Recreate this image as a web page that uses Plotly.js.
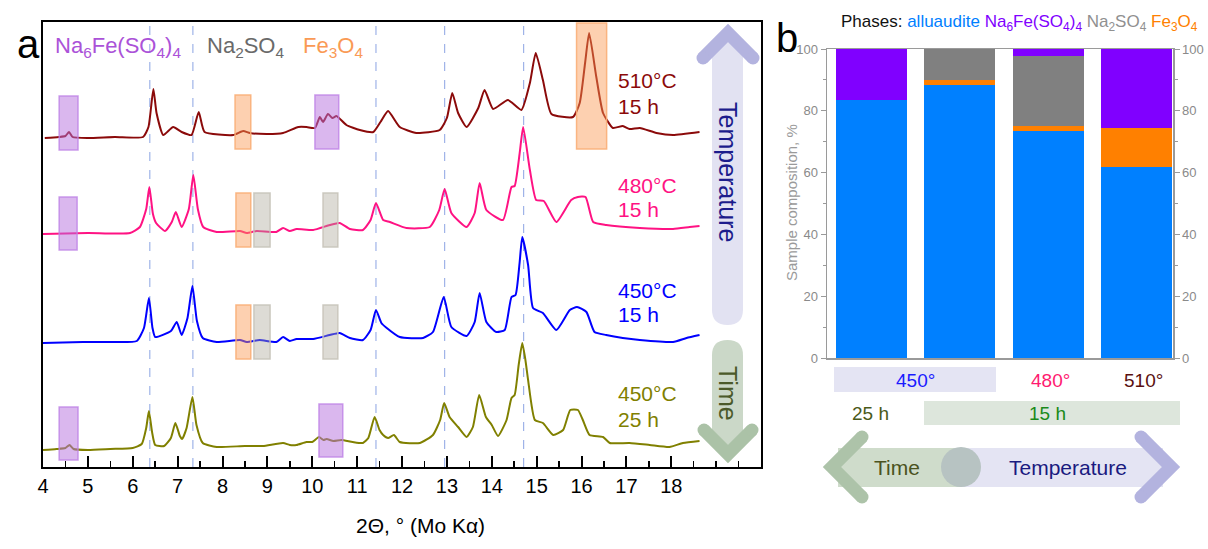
<!DOCTYPE html>
<html>
<head>
<meta charset="utf-8">
<script src="https://cdn.plot.ly/plotly-3.0.1.min.js"></script>
<style>html,body{margin:0;padding:0;background:#fff}#chart{width:1208px;height:549px}</style>
</head>
<body>
<div id="chart"></div>
<script>
// ---------------- Panel a: XRD patterns (2Θ in degrees, intensity in arbitrary units) ----------------
const x510 = [4.04,4.35,4.50,4.58,4.66,5.0,5.6,6.23,6.35,6.46,6.53,6.68,6.9,7.09,7.31,7.47,7.6,8.24,8.46,8.61,9.0,9.35,9.69,9.87,10.06,10.17,10.24,10.35,10.45,10.54,10.76,11.06,11.36,11.52,11.69,11.95,12.32,12.84,13.0,13.12,13.25,13.44,13.7,13.84,14.03,14.36,14.66,14.85,14.98,15.14,15.33,15.81,15.96,16.08,16.17,16.33,16.48,16.7,16.92,17.07,17.3,17.67,18.04,18.63];
const y510 = [0,1,2,6,1,0,1,1,11,49,25,3,11,6,3,26,6,3,7,5,4,5,11,11,10,21,16,24,20,22,13,8,6,16,27,11,5,8,20,45,25,11,30,48,29,38,28,55,85,58,24,21,35,75,105,61,25,10,12,9,10,5,3,6];

const x480 = [4.0,5.0,5.94,6.16,6.3,6.37,6.45,6.52,6.72,6.87,6.96,7.09,7.25,7.35,7.45,7.57,7.87,8.39,8.54,8.76,9.2,9.35,9.5,9.65,10.02,10.39,10.61,10.84,11.13,11.3,11.42,11.58,11.73,12.1,12.62,12.83,12.95,13.1,13.44,13.62,13.73,13.88,14.25,14.44,14.51,14.62,14.7,14.85,14.99,15.16,15.44,15.77,15.92,16.09,16.26,16.55,17.3,18.04,18.41,18.63];
const y480 = [0,1,1,7,25,47,20,11,3,12,22,7,25,59,25,7,2,3,1,3,2,6,3,5,4,9,11,5,4,14,31,14,12,6,7,24,45,21,7,21,51,24,14,47,48,80,107,64,34,33,12,34,37,37,12,9,6,5,7,8];

const x450a = [4.0,4.89,5.5,6.09,6.25,6.36,6.44,6.5,6.85,6.98,7.09,7.22,7.33,7.43,7.56,7.87,8.39,8.54,8.83,9.2,9.35,9.5,9.65,10.02,10.39,10.61,10.84,11.13,11.3,11.42,11.54,11.66,11.95,12.47,12.69,12.93,13.1,13.44,13.62,13.73,13.88,14.1,14.29,14.44,14.53,14.62,14.68,14.81,14.92,15.14,15.44,15.74,15.9,16.11,16.29,16.55,16.92,17.3,18.04,18.34,18.63];
const y450a = [0,1,1,2,15,45,15,6,12,21,8,25,57,22,5,1,3,1,3,1,6,2,4,4,8,10,5,3,13,33,20,15,6,5,11,46,16,7,21,50,21,11,13,46,48,80,106,78,35,30,13,33,36,31,11,8,5,3,1,5,8];

const x450b = [4.0,4.3,4.5,4.59,4.68,5.0,5.5,6.0,6.2,6.3,6.36,6.43,6.5,6.7,6.85,6.95,7.05,7.1,7.2,7.33,7.42,7.56,7.87,8.5,8.9,9.35,9.5,9.65,9.87,10.0,10.15,10.25,10.32,10.47,10.65,10.9,11.13,11.25,11.39,11.5,11.58,11.69,11.82,11.95,12.4,12.69,12.85,12.94,13.06,13.25,13.44,13.58,13.72,13.87,14.0,14.14,14.33,14.44,14.51,14.6,14.68,14.75,14.81,14.96,15.14,15.37,15.59,15.75,15.92,16.03,16.18,16.48,16.63,17.07,17.52,17.96,18.26,18.63];
const y450b = [0,1,2,5,1,0,1,2,6,22,39,18,5,4,12,27,14,11,22,53,25,7,3,4,4,7,5,5,8,8,13,10,11,9,10,8,7,12,33,20,15,12,15,8,7,15,30,47,33,23,13,23,55,33,25,14,30,52,55,85,107,90,70,30,27,15,20,40,40,30,15,13,7,7,5,3,7,9];

const xrdNames  = ['510°C 15 h', '480°C 15 h', '450°C 15 h', '450°C 25 h'];
const xrdColors = ['#8b0a0a', '#ff1283', '#0000ff', '#808000'];
const xrdOffsets = [329, 233, 124, 17];
const xTickVals = [4,5,6,7,8,9,10,11,12,13,14,15,16,17,18];
const refPeaks  = [6.38, 7.34, 11.42, 12.95, 14.71];   // alluaudite reference reflections (dashed lines)

// impurity markers: phase, 2Θ from, 2Θ to, y from, y to (plot units)
const markPhase = ['na6','fe3o4','na6','fe3o4', 'na6','fe3o4','na2','na2', 'fe3o4','na2','na2', 'na6','na6'];
const markX0    = [4.36, 8.28, 10.06, 15.89, 4.36, 8.30, 8.70, 10.24, 8.30, 8.70, 10.24, 4.36, 10.15];
const markX1    = [4.78, 8.63, 10.59, 16.56, 4.76, 8.63, 9.06, 10.57, 8.63, 9.06, 10.57, 4.78, 10.68];
const markY0    = [317, 318, 318, 318, 217, 220, 220, 220, 108, 108, 108, 7, 10];
const markY1    = [371, 372, 372, 444, 270, 274, 274, 274, 162, 162, 162, 60, 63];

// ---------------- Panel b: phase composition, % ----------------
const samples     = ['450°C 25 h', '450°C 15 h', '480°C 15 h', '510°C 15 h'];
const alluaudite  = [83.5, 88.3, 73.5, 61.7];
const fe3o4       = [0, 1.7, 1.7, 12.6];
const na2so4      = [0, 10.0, 22.5, 0];
const na6fe       = [16.5, 0, 2.3, 25.7];
const phaseNames  = ['alluaudite', 'Fe<sub>3</sub>O<sub>4</sub>', 'Na<sub>2</sub>SO<sub>4</sub>', 'Na<sub>6</sub>Fe(SO<sub>4</sub>)<sub>4</sub>'];
const phaseColors = ['#0080ff', '#ff8000', '#808080', '#8000ff'];
const compTicks   = [0, 20, 40, 60, 80, 100];

// ---------------- helpers ----------------
const W = 1208, H = 549;
const PX = v => v / W, PY = v => 1 - v / H;
const FONT = 'Liberation Sans, Arial, sans-serif';

function roundedVBar(x0, x1, y0, y1) {
  const r = (x1 - x0) / 2;
  const P = (x, y) => PX(x).toFixed(5) + ',' + PY(y).toFixed(5);
  return 'M' + P(x0, y0 + r) + ' Q' + P(x0, y0) + ' ' + P(x0 + r, y0) + ' Q' + P(x1, y0) + ' ' + P(x1, y0 + r) +
         ' L' + P(x1, y1 - r) + ' Q' + P(x1, y1) + ' ' + P(x0 + r, y1) + ' Q' + P(x0, y1) + ' ' + P(x0, y1 - r) + ' Z';
}
function polyline(pts) {
  return pts.map((p, i) => (i ? 'L' : 'M') + PX(p[0]).toFixed(5) + ',' + PY(p[1]).toFixed(5)).join(' ');
}
const shapes = [];
function chevron(pts, color, w) {
  shapes.push({type: 'path', xref: 'paper', yref: 'paper', path: polyline(pts), line: {color: color, width: w}, layer: 'above'});
  [pts[0], pts[2]].forEach(p => shapes.push({type: 'circle', xref: 'paper', yref: 'paper',
    x0: PX(p[0] - w / 2), x1: PX(p[0] + w / 2), y0: PY(p[1] + w / 2), y1: PY(p[1] - w / 2),
    fillcolor: color, line: {width: 0}, layer: 'above'}));
}
function rectPx(x0, x1, y0, y1, fill, layer) {
  shapes.push({type: 'rect', xref: 'paper', yref: 'paper', x0: PX(x0), x1: PX(x1), y0: PY(y1), y1: PY(y0),
    fillcolor: fill, line: {width: 0}, layer: layer || 'below'});
}

// ---------------- traces ----------------
const xrdX = [x510, x480, x450a, x450b];
const xrdY = [y510, y480, y450a, y450b];
const traces = xrdX.map((xs, i) => ({
  type: 'scatter', mode: 'lines', x: xs, y: xrdY[i].map(v => v + xrdOffsets[i]),
  name: xrdNames[i], line: {color: xrdColors[i], width: 2, shape: 'spline', smoothing: 0.5},
  xaxis: 'x', yaxis: 'y', showlegend: false, hoverinfo: 'x+name'
}));
[alluaudite, fe3o4, na2so4, na6fe].forEach((vals, i) => traces.push({
  type: 'bar', x: samples, y: vals, name: phaseNames[i], width: 0.8,
  marker: {color: phaseColors[i], line: {width: 0}}, xaxis: 'x2', yaxis: 'y2', showlegend: false
}));
traces.push({type: 'scatter', mode: 'markers', x: samples, y: [null, null, null, null], xaxis: 'x2', yaxis: 'y3',
  showlegend: false, hoverinfo: 'skip'});

// dashed reference lines
refPeaks.forEach(p => shapes.push({type: 'line', xref: 'x', yref: 'paper', x0: p, x1: p, y0: 82 / H, y1: 527 / H,
  line: {color: '#9fb3e8', width: 1.2, dash: 'dash'}, layer: 'below'}));

// impurity markers
const markStyle = {
  na6:   {fill: 'rgba(182,112,222,0.5)', line: 'rgba(190,130,230,0.8)'},
  fe3o4: {fill: 'rgba(250,150,80,0.45)', line: 'rgba(250,175,120,0.9)'},
  na2:   {fill: 'rgba(170,165,150,0.4)', line: 'rgba(200,196,186,0.9)'}
};
markPhase.forEach((ph, i) => shapes.push({type: 'rect', xref: 'x', yref: 'y', x0: markX0[i], x1: markX1[i],
  y0: markY0[i], y1: markY1[i], fillcolor: markStyle[ph].fill, line: {color: markStyle[ph].line, width: 1.5}, layer: 'above'}));

// panel a arrows
shapes.push({type: 'path', xref: 'paper', yref: 'paper', path: roundedVBar(712, 743, 40, 325), fillcolor: '#e2e2f2', line: {width: 0}, layer: 'below'});
chevron([[703, 58], [728, 33], [753, 58]], '#b3b3df', 13);
shapes.push({type: 'path', xref: 'paper', yref: 'paper', path: roundedVBar(712, 743, 340, 448), fillcolor: '#cbd8c8', line: {width: 0}, layer: 'below'});
chevron([[704, 430], [728, 454], [752, 430]], '#abc2a7', 13);

// panel b labels background
rectPx(834, 996, 367, 392, '#e4e4f3');
rectPx(924, 1180, 401, 425, '#dde6dc');
// panel b bottom double arrow
rectPx(838, 962, 448, 487, '#cfdccb');
rectPx(962, 1163, 448, 487, '#e4e4f3');
shapes.push({type: 'circle', xref: 'paper', yref: 'paper', x0: PX(941), x1: PX(981), y0: PY(487), y1: PY(447),
  fillcolor: '#b7c3c2', line: {width: 0}, layer: 'below'});
chevron([[862, 437], [832, 467], [862, 497]], '#adc3a9', 13);
chevron([[1141, 437], [1171, 467], [1141, 497]], '#b3b3df', 13);

// ---------------- annotations ----------------
const ann = [];
function txt(text, x, y, size, color, opts) {
  ann.push(Object.assign({xref: 'paper', yref: 'paper', x: PX(x), y: PY(y), text: text, showarrow: false,
    font: {family: FONT, size: size, color: color}, xanchor: 'center', yanchor: 'middle'}, opts || {}));
}
txt('a', 28, 44, 40, '#000');
txt('b', 787, 38, 40, '#000');
txt('Na<sub>6</sub>Fe(SO<sub>4</sub>)<sub>4</sub>', 118, 47, 22, '#ab52d8');
txt('Na<sub>2</sub>SO<sub>4</sub>', 245, 47, 22, '#6a6a6a');
txt('Fe<sub>3</sub>O<sub>4</sub>', 333, 47, 22, '#fa9a55');
const labY = [[81, 106], [185, 209], [290, 314], [394, 419]];
const labL1 = ['510°C', '480°C', '450°C', '450°C'];
const labL2 = ['15 h', '15 h', '15 h', '25 h'];
labY.forEach((yy, i) => {
  txt(labL1[i], 616, yy[0], 21, xrdColors[i], {xanchor: 'left'});
  txt(labL2[i], 616, yy[1], 21, xrdColors[i], {xanchor: 'left'});
});
txt('Temperature', 728, 172, 25, '#1c1c8c', {textangle: 90});
txt('Time', 728, 393, 25, '#4b5a2a', {textangle: 90});
txt('2Θ, ° (Mo Kα)', 421, 525, 21, '#000');

txt('Phases: <span style="color:#0080ff">alluaudite</span> <span style="color:#8000ff">Na<sub>6</sub>Fe(SO<sub>4</sub>)<sub>4</sub></span> <span style="color:#909090">Na<sub>2</sub>SO<sub>4</sub></span> <span style="color:#ff8000">Fe<sub>3</sub>O<sub>4</sub></span>',
  1019, 23, 17, '#111');
txt('Sample composition, %', 791, 203, 15, '#9a9a9a', {textangle: -90});
txt('450°', 915, 380, 19, '#1a1aff');
txt('480°', 1050, 380, 19, '#ff1a70');
txt('510°', 1143, 380, 19, '#5a1010');
txt('25 h', 870, 413, 19, '#4a5a1a');
txt('15 h', 1047, 413, 19, '#1a8a1a');
txt('Time', 897, 467, 21, '#4b5320');
txt('Temperature', 1068, 467, 21, '#1a1a80');

// ---------------- layout ----------------
const axisB = {showline: true, linecolor: '#9a9a9a', linewidth: 1.5, showgrid: false, zeroline: false};
const layout = {
  width: W, height: H, margin: {l: 0, r: 0, t: 0, b: 0, pad: 0, autoexpand: false},
  paper_bgcolor: '#fff', plot_bgcolor: 'rgba(0,0,0,0)', font: {family: FONT},
  barmode: 'stack', showlegend: false,
  xaxis: {domain: [43 / W, 761 / W], anchor: 'y', range: [4, 20], tickvals: xTickVals, ticks: 'inside', ticklen: 11,
    tickwidth: 2, tickcolor: '#000', showline: true, linecolor: '#000', linewidth: 2, mirror: true,
    showgrid: false, zeroline: false, tickfont: {size: 20, color: '#000'},
    minor: {dtick: 0.5, tick0: 4, ticks: 'inside', ticklen: 6, tickwidth: 1.5, tickcolor: '#000', showgrid: false}},
  yaxis: {domain: [82 / H, 527 / H], anchor: 'x', range: [0, 445], showticklabels: false, ticks: '',
    showline: true, linecolor: '#000', linewidth: 2, mirror: true, showgrid: false, zeroline: false},
  xaxis2: Object.assign({}, axisB, {domain: [827 / W, 1173 / W], anchor: 'y2', range: [-0.5, 3.41],
    showticklabels: false, ticks: '', mirror: true}),
  yaxis2: Object.assign({}, axisB, {domain: [191 / H, 500 / H], anchor: 'x2', range: [0, 100], tickvals: compTicks,
    ticks: 'outside', ticklen: 5, tickcolor: '#9a9a9a', tickfont: {size: 13, color: '#8a8a8a'},
    minor: {dtick: 10, ticks: 'outside', ticklen: 3, tickcolor: '#9a9a9a', showgrid: false}}),
  yaxis3: Object.assign({}, axisB, {overlaying: 'y2', side: 'right', anchor: 'x2', range: [0, 100], tickvals: compTicks,
    ticks: 'outside', ticklen: 5, tickcolor: '#9a9a9a', tickfont: {size: 13, color: '#8a8a8a'},
    minor: {dtick: 10, ticks: 'outside', ticklen: 3, tickcolor: '#9a9a9a', showgrid: false}}),
  shapes: shapes, annotations: ann
};
Plotly.newPlot('chart', traces, layout, {displayModeBar: false, staticPlot: true});
</script>
</body>
</html>
